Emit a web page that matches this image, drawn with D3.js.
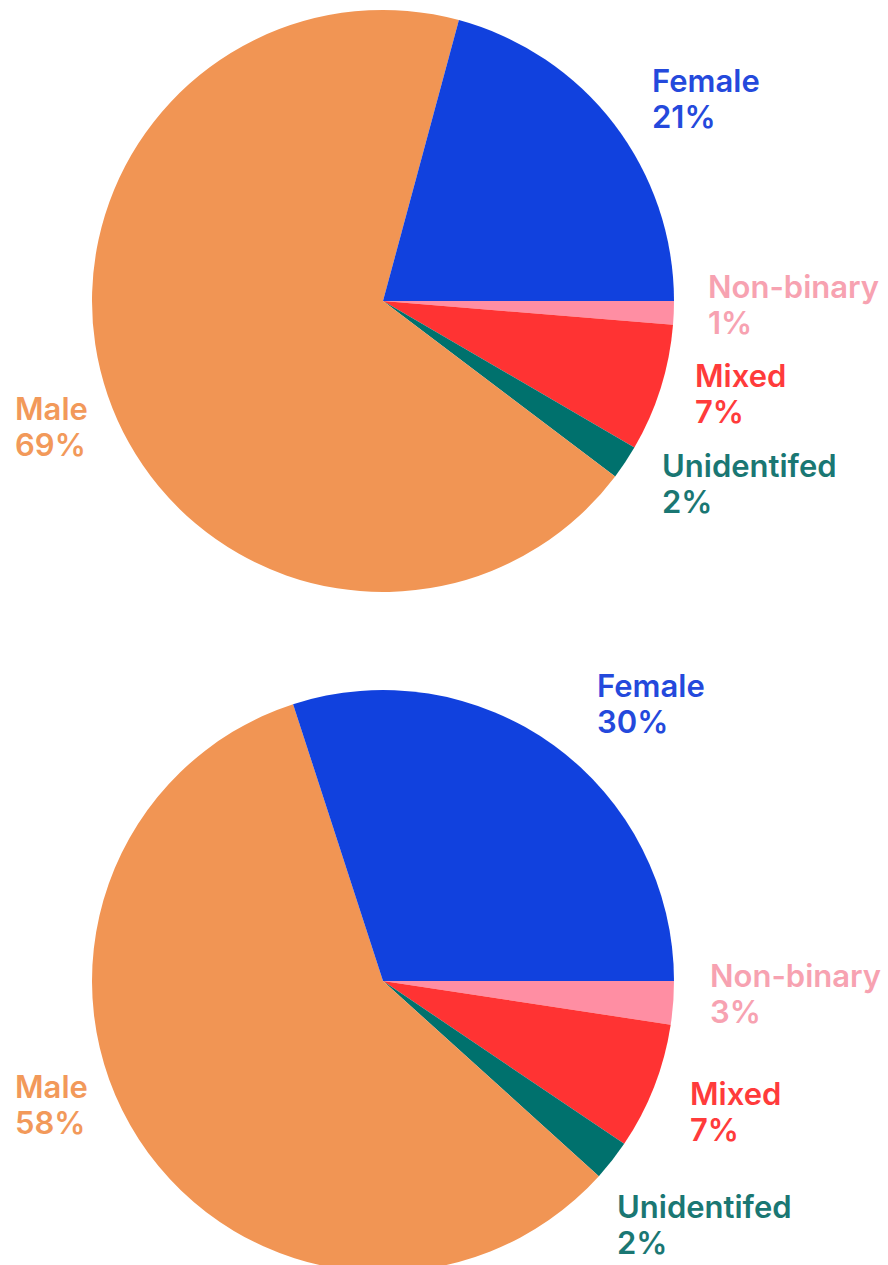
<!DOCTYPE html>
<html>
<head>
<meta charset="utf-8">
<script src="https://cdn.jsdelivr.net/npm/d3@7"></script>
<style>
  html, body { margin: 0; padding: 0; background: #fff; }
  svg { display: block; }
  .pie-label { font-family: Inter, "Noto Sans", sans-serif; font-weight: 600; font-size: 31px; }
</style>
</head>
<body>
<div id="chart"></div>
<script>
// Gender split, two pies (order = clockwise from 3 o'clock)
const categories = ['Non-binary', 'Mixed', 'Unidentifed', 'Male', 'Female'];

// shares
const topValues    = [1.3, 7.1, 1.9, 68.9, 20.8];
const bottomValues = [2.4, 7.05, 2.25, 58.3, 30.0];

// printed percentages
const topPercents    = ['1%', '7%', '2%', '69%', '21%'];
const bottomPercents = ['3%', '7%', '2%', '58%', '30%'];

const fills  = ['#ff8ea3', '#ff3333', '#00716d', '#f19554', '#1141de'];
const inks   = ['#f7a2b1', '#ff3b3b', '#1a7773', '#f2995a', '#2449dc'];

const W = 888, H = 1265;
const R = 291;

// label anchor (left, first baseline) relative to each pie centre
const topLabelPos = {
  'Non-binary': [325, -3], 'Mixed': [312, 86], 'Unidentifed': [279, 176],
  'Male': [-368, 119], 'Female': [269, -209]
};
const bottomLabelPos = {
  'Non-binary': [327, 6], 'Mixed': [307, 124], 'Unidentifed': [234, 237],
  'Male': [-368, 117], 'Female': [214, -284]
};

const svg = d3.select('#chart').append('svg')
  .attr('width', W).attr('height', H)
  .attr('viewBox', `0 0 ${W} ${H}`);

const pie = d3.pie()
  .sort(null)
  .value(d => d.value)
  .startAngle(Math.PI / 2)
  .endAngle(Math.PI / 2 + 2 * Math.PI);

const arc = d3.arc().innerRadius(0).outerRadius(R);
const color = d3.scaleOrdinal().domain(categories).range(fills);
const ink = d3.scaleOrdinal().domain(categories).range(inks);

function drawPie(cx, cy, values, percents, labelPos) {
  const data = categories.map((c, i) => ({ cat: c, value: values[i], pct: percents[i] }));
  const g = svg.append('g').attr('transform', `translate(${cx},${cy})`);

  g.selectAll('path.slice')
    .data(pie(data))
    .enter()
    .append('path')
    .attr('class', 'slice')
    .attr('d', arc)
    .attr('fill', d => color(d.data.cat));

  const lab = g.selectAll('text.pie-label')
    .data(data)
    .enter()
    .append('text')
    .attr('class', 'pie-label')
    .attr('fill', d => ink(d.cat))
    .attr('x', d => labelPos[d.cat][0])
    .attr('y', d => labelPos[d.cat][1]);

  lab.append('tspan').text(d => d.cat);
  lab.append('tspan')
    .attr('x', d => labelPos[d.cat][0])
    .attr('dy', 36)
    .text(d => d.pct);
}

drawPie(383, 301, topValues, topPercents, topLabelPos);
drawPie(383, 981, bottomValues, bottomPercents, bottomLabelPos);
</script>
</body>
</html>
